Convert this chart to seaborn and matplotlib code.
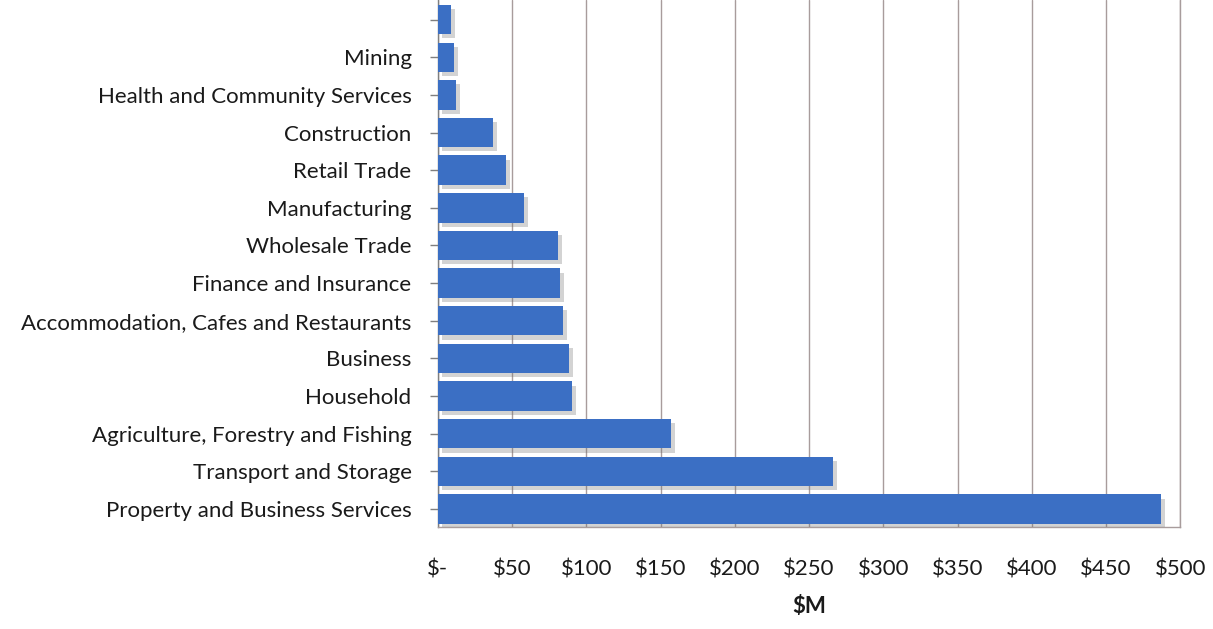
import matplotlib
matplotlib.use("Agg")
import matplotlib.pyplot as plt
import matplotlib.patheffects as pe
from matplotlib.ticker import FuncFormatter, MultipleLocator
import seaborn as sns
import pandas as pd

industries = [
    "",
    "Mining",
    "Health and Community Services",
    "Construction",
    "Retail Trade",
    "Manufacturing",
    "Wholesale Trade",
    "Finance and Insurance",
    "Accommodation, Cafes and Restaurants",
    "Business",
    "Household",
    "Agriculture, Forestry and Fishing",
    "Transport and Storage",
    "Property and Business Services",
]
values_musd = [9, 11, 12, 37, 46, 58, 81, 82, 84, 88, 90, 157, 266, 487]

df = pd.DataFrame({"industry": industries, "value": values_musd})

sns.set_theme(style="white")
plt.rcParams["font.family"] = ["Lato", "DejaVu Sans"]

fig = plt.figure(figsize=(12.13, 6.29), dpi=100)
ax = fig.add_axes([0.361, 0.162, 0.612, 0.838])

sns.barplot(data=df, x="value", y="industry", orient="h", color="#3b6fc4",
            saturation=1, width=0.78, linewidth=0, ax=ax, zorder=3)

# soft drop shadow beneath each bar
for bar in ax.patches:
    bar.set_path_effects([
        pe.SimplePatchShadow(offset=(3, -3), shadow_rgbFace="#6f6f6f", alpha=0.3),
        pe.Normal(),
    ])

ax.set_xlim(0, 500)
ax.set_ylim(13.48, -0.52)
ax.xaxis.set_major_locator(MultipleLocator(50))
ax.xaxis.set_major_formatter(FuncFormatter(lambda v, _: "$-" if v == 0 else f"${v:.0f}"))

ax.grid(axis="x", color="#a89c9c", linewidth=1.0, zorder=0)
ax.grid(axis="y", visible=False)

for side in ["left", "bottom", "right"]:
    ax.spines[side].set_visible(True)
    ax.spines[side].set_color("#a89c9c")
    ax.spines[side].set_linewidth(1.0)
ax.spines["left"].set_color("#7f7f7f")
ax.spines["top"].set_visible(False)

ax.tick_params(axis="y", which="major", left=True, length=6, width=1, color="#7f7f7f",
               pad=13, labelsize=16, labelcolor="#1a1a1a")
ax.tick_params(axis="x", which="major", bottom=False, pad=17, labelsize=16,
               labelcolor="#1a1a1a")

ax.set_ylabel("")
ax.set_xlabel("$M", fontsize=16, fontweight="bold", color="#1a1a1a", labelpad=12)

fig.savefig("out.png", dpi=100)
